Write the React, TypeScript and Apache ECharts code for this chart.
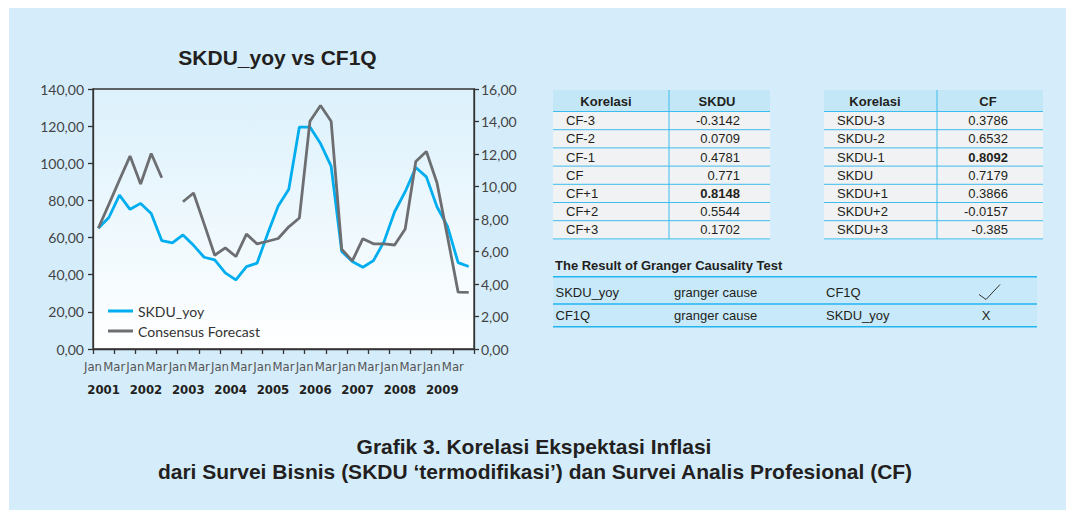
import React, { useEffect, useRef } from "react";
import * as echarts from "echarts";

// ---------- data ----------
const yearLabels = ["2001", "2002", "2003", "2004", "2005", "2006", "2007", "2008", "2009"];
const monthTickLabels = ["Jan", "Mar"];
const quarterCats = yearLabels.flatMap((y) => ["Q1", "Q2", "Q3", "Q4"].map((q) => `${y} ${q}`));

const skduYoy = [
  65.0, 70.8, 82.9, 75.2, 78.4, 73.0, 58.3, 57.1, 61.4, 55.8,
  49.4, 48.0, 41.0, 37.2, 44.4, 46.2, 62.0, 77.0, 86.0, 119.5,
  119.5, 110.6, 98.5, 52.5, 47.1, 44.0, 47.6, 57.8, 73.9, 84.7,
  97.7, 92.7, 76.6, 66.0, 46.5, 44.4,
];
const consensusForecast = [
  7.43, 8.9, 10.4, 11.87, 10.15, 12.03, 10.54, null, 9.06, 9.6,
  7.7, 5.77, 6.22, 5.69, 7.07, 6.47, 6.63, 6.8, 7.52, 8.06,
  14.02, 14.98, 14.02, 6.14, 5.42, 6.79, 6.47, 6.47, 6.4, 7.39,
  11.54, 12.15, 10.23, 6.9, 3.5, 3.48,
];

const titleText = "SKDU_yoy vs CF1Q";

const corrSkduLabels = ["CF-3", "CF-2", "CF-1", "CF", "CF+1", "CF+2", "CF+3"];
const corrSkduValues = [-0.3142, 0.0709, 0.4781, 0.771, 0.8148, 0.5544, 0.1702];
const corrCfLabels = ["SKDU-3", "SKDU-2", "SKDU-1", "SKDU", "SKDU+1", "SKDU+2", "SKDU+3"];
const corrCfValues = [0.3786, 0.6532, 0.8092, 0.7179, 0.3866, -0.0157, -0.385];

const grangerTitle = "The Result of Granger Causality Test";
const grangerRows = [
  ["SKDU_yoy", "granger cause", "CF1Q", "check"],
  ["CF1Q", "granger cause", "SKDU_yoy", "X"],
];

const captionLines = [
  "Grafik 3. Korelasi Ekspektasi Inflasi",
  "dari Survei Bisnis (SKDU \u2018termodifikasi\u2019) dan Survei Analis Profesional (CF)",
];

// ---------- layout helpers ----------
const OX = 9;
const OY = 8;
const px = (x: number) => x - OX;
const py = (y: number) => y - OY;

const SANS = "'Liberation Sans', Arial, Helvetica, sans-serif";
const CHART_FONT = "Lato, 'Open Sans', sans-serif";
const NARROW_FONT = "'Liberation Sans Narrow', 'DejaVu Sans Condensed', Lato, sans-serif";
const TXT = "#231f20";
const LINE_BLUE = "#3dbcee";

function txt(x: number, y: number, text: string, opts: any = {}) {
  return {
    type: "text",
    x: px(x),
    y: py(y),
    silent: true,
    style: {
      text,
      fontSize: opts.fontSize ?? 13,
      fontFamily: opts.fontFamily ?? SANS,
      fontWeight: opts.fontWeight ?? "normal",
      fill: opts.fill ?? TXT,
      align: opts.align ?? "left",
      verticalAlign: "middle",
      textAlign: opts.align ?? "left",
      textVerticalAlign: "middle",
    },
  };
}
function rect(x0: number, y0: number, x1: number, y1: number, fill: string) {
  return { type: "rect", silent: true, shape: { x: px(x0), y: py(y0), width: x1 - x0, height: y1 - y0 }, style: { fill } };
}
function hline(x0: number, x1: number, y: number, stroke: string, lineWidth = 1) {
  return { type: "line", silent: true, shape: { x1: px(x0), y1: py(y), x2: px(x1), y2: py(y) }, style: { stroke, lineWidth } };
}
function vline(x: number, y0: number, y1: number, stroke: string, lineWidth = 1) {
  return { type: "line", silent: true, shape: { x1: px(x), y1: py(y0), x2: px(x), y2: py(y1) }, style: { stroke, lineWidth } };
}

function corrTable(
  x0: number, xDiv: number, x1: number,
  head1C: number, head2C: number, labelX: number, valRight: number,
  head2: string, labels: string[], values: number[]
) {
  const headTop = 90, headBot = 111.5, rowH = 18.2;
  const maxV = Math.max(...values);
  const els: any[] = [];
  els.push(rect(x0, headTop, x1, headBot, "#c4e7f8"));
  els.push(rect(x0, headBot, x1, headBot + rowH * labels.length, "#f1f2f3"));
  els.push(txt(head1C, 101, "Korelasi", { fontWeight: "bold", align: "center" }));
  els.push(txt(head2C, 101, head2, { fontWeight: "bold", align: "center" }));
  labels.forEach((l, i) => {
    const yc = headBot + rowH * (i + 0.5);
    els.push(txt(labelX, yc, l));
    els.push(txt(valRight, yc, String(values[i]), { align: "right", fontWeight: values[i] === maxV ? "bold" : "normal" }));
    els.push(hline(x0, x1, headBot + rowH * (i + 1), LINE_BLUE, 1));
  });
  els.push(hline(x0, x1, headBot, LINE_BLUE, 1));
  els.push(vline(xDiv, headTop, headBot + rowH * labels.length, LINE_BLUE, 1));
  return els;
}

function buildGraphics() {
  const els: any[] = [];
  els.push(txt(277.5, 57, titleText, { fontSize: 21, fontWeight: "bold", align: "center" }));
  els.push(...corrTable(553, 669, 770, 606, 717, 566, 740, "SKDU", corrSkduLabels, corrSkduValues));
  els.push(...corrTable(824, 937, 1043, 875, 988, 837, 1008, "CF", corrCfLabels, corrCfValues));

  // Granger table
  els.push(txt(555, 265, grangerTitle, { fontWeight: "bold" }));
  const gy = [276.7, 304, 326.7];
  els.push(rect(553, gy[0], 1037, gy[2], "#c8e9fa"));
  const colX = [555.5, 674, 826];
  grangerRows.forEach((row, i) => {
    const yc = i === 0 ? 292 : 315.3;
    row.slice(0, 3).forEach((c, j) => els.push(txt(colX[j], yc, c)));
    if (row[3] === "check") {
      els.push({
        type: "polyline",
        silent: true,
        shape: { points: [[px(979), py(294.5)], [px(986), py(299.5)], [px(1000), py(284.5)]] },
        style: { stroke: "#333", lineWidth: 1, fill: null },
      });
    } else {
      els.push(txt(986, yc, row[3], { align: "center" }));
    }
  });
  gy.forEach((y) => els.push(hline(553, 1037, y, "#22b5f0", 1.5)));

  // caption
  els.push(txt(534, 446.5, captionLines[0], { fontSize: 21, fontWeight: "bold", align: "center" }));
  els.push(txt(535, 471.5, captionLines[1], { fontSize: 21, fontWeight: "bold", align: "center" }));
  return els;
}

const fmt = (v: number) => v.toFixed(2).replace(".", ",");

export default function App() {
  const ref = useRef<HTMLDivElement>(null);
  useEffect(() => {
    if (!ref.current) return;
    const chart = echarts.init(ref.current, undefined, { renderer: "svg" });
    const tickCats = [...yearLabels.flatMap(() => monthTickLabels), ""];
    const yearCats = yearLabels.flatMap((y) => [y, ""]);
    const axisLineStyle = { color: "#333", width: 1.3 };
    chart.setOption({
      animation: false,
      backgroundColor: "#d5edfb",
      textStyle: { fontFamily: CHART_FONT },
      grid: {
        left: px(93),
        top: py(89),
        width: 381,
        height: 260,
        show: true,
        borderColor: "#333",
        borderWidth: 1.3,
        backgroundColor: {
          type: "linear", x: 0, y: 0, x2: 0, y2: 1,
          colorStops: [
            { offset: 0, color: "#dcf1fc" },
            { offset: 1, color: "#ffffff" },
          ],
        },
      },
      legend: {
        orient: "vertical",
        left: px(108),
        top: py(304),
        padding: 0,
        itemWidth: 25,
        itemHeight: 3,
        itemGap: 6,
        icon: "rect",
        textStyle: { fontSize: 14, color: "#333", fontFamily: CHART_FONT },
        data: ["SKDU_yoy", "Consensus Forecast"],
      },
      xAxis: [
        {
          type: "category",
          data: quarterCats,
          boundaryGap: true,
          axisLine: { show: true, lineStyle: axisLineStyle },
          axisTick: { show: false },
          axisLabel: { show: false },
        },
        {
          type: "category",
          data: tickCats,
          boundaryGap: false,
          position: "bottom",
          axisLine: { show: false },
          axisTick: { show: true, interval: 0, length: 5, lineStyle: axisLineStyle },
          axisLabel: { interval: 0, margin: 11, fontSize: 13, color: "#555", fontFamily: NARROW_FONT },
        },
        {
          type: "category",
          data: yearCats,
          boundaryGap: true,
          position: "bottom",
          axisLine: { show: false },
          axisTick: { show: false },
          axisLabel: { interval: 0, margin: 34, fontSize: 13, fontWeight: "bold", color: "#231f20", fontFamily: NARROW_FONT },
        },
      ],
      yAxis: [
        {
          type: "value",
          min: 0,
          max: 140,
          interval: 20,
          splitLine: { show: false },
          axisLine: { show: true, lineStyle: axisLineStyle },
          axisTick: { show: true, length: 5, lineStyle: axisLineStyle },
          axisLabel: { formatter: fmt, fontSize: 14, color: "#444", margin: 9 },
        },
        {
          type: "value",
          min: 0,
          max: 16,
          interval: 2,
          position: "right",
          splitLine: { show: false },
          axisLine: { show: true, lineStyle: axisLineStyle },
          axisTick: { show: true, length: 5, lineStyle: axisLineStyle },
          axisLabel: { formatter: fmt, fontSize: 14, color: "#444", margin: 7 },
        },
      ],
      series: [
        {
          name: "SKDU_yoy",
          type: "line",
          xAxisIndex: 0,
          yAxisIndex: 0,
          data: skduYoy,
          showSymbol: false,
          symbol: "none",
          lineStyle: { color: "#00aeef", width: 2.8 },
          itemStyle: { color: "#00aeef" },
          z: 3,
        },
        {
          name: "Consensus Forecast",
          type: "line",
          xAxisIndex: 0,
          yAxisIndex: 1,
          data: consensusForecast,
          connectNulls: false,
          showSymbol: false,
          symbol: "none",
          lineStyle: { color: "#6d6e71", width: 2.8 },
          itemStyle: { color: "#6d6e71" },
          z: 4,
        },
      ],
      graphic: { elements: buildGraphics() },
    });
    return () => chart.dispose();
  }, []);
  return (
    <div style={{ position: "absolute", left: 0, top: 0, width: 1066, height: 510, background: "#ffffff" }}>
      <div ref={ref} style={{ position: "absolute", left: OX, top: OY, width: 1066 - OX, height: 510 - OY }} />
    </div>
  );
}
